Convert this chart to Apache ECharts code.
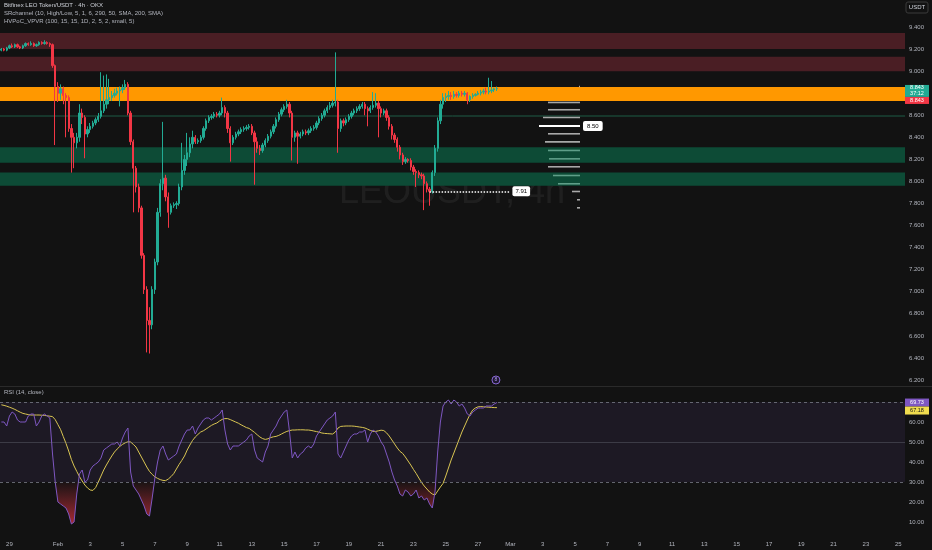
<!DOCTYPE html>
<html><head><meta charset="utf-8">
<script src="https://cdn.jsdelivr.net/npm/echarts@6/dist/echarts.min.js"></script>
<style>html,body{margin:0;padding:0;background:#121212;}#c{width:932px;height:550px;}</style>
</head><body><div id="c"></div>
<script>
// ---------- DATA ----------
// 4h candles [open, close, low, high], first candle Jan 28 12:00
const candles = [
[9.19,9.20,9.18,9.21],[9.20,9.19,9.18,9.21],[9.19,9.21,9.18,9.22],[9.21,9.23,9.20,9.24],[9.23,9.22,9.21,9.25],
[9.22,9.24,9.21,9.25],[9.24,9.22,9.21,9.25],[9.22,9.21,9.20,9.23],[9.21,9.23,9.20,9.24],[9.23,9.25,9.22,9.26],
[9.25,9.24,9.23,9.26],[9.24,9.25,9.23,9.27],[9.25,9.23,9.22,9.26],[9.23,9.24,9.22,9.25],[9.24,9.26,9.23,9.27],
[9.26,9.25,9.24,9.27],[9.25,9.26,9.24,9.28],[9.26,9.25,9.24,9.27],[9.25,9.24,9.22,9.26],[9.24,9.05,9.03,9.25],
[9.05,8.86,8.33,9.06],[8.86,8.80,8.72,8.90],[8.80,8.84,8.74,8.88],[8.84,8.78,8.70,8.86],[8.78,8.76,8.40,8.80],
[8.76,8.48,8.45,8.78],[8.48,8.40,8.08,8.52],[8.40,8.35,8.12,8.44],[8.35,8.40,8.30,8.44],[8.40,8.62,8.36,8.70],
[8.62,8.58,8.52,8.66],[8.58,8.43,8.21,8.60],[8.43,8.47,8.40,8.50],[8.47,8.50,8.44,8.53],[8.50,8.53,8.48,8.55],
[8.53,8.56,8.51,8.58],[8.56,8.59,8.54,8.62],[8.59,8.64,8.57,8.99],[8.64,8.70,8.62,8.96],[8.70,8.74,8.66,8.97],
[8.74,8.76,8.70,8.93],[8.76,8.78,8.73,8.82],[8.78,8.80,8.76,8.84],[8.80,8.82,8.78,8.85],[8.82,8.83,8.68,8.86],
[8.83,8.85,8.80,8.88],[8.85,8.88,8.83,8.92],[8.88,8.62,8.60,8.90],[8.62,8.36,8.33,8.64],[8.36,8.12,7.72,8.38],
[8.12,7.95,7.90,8.14],[7.95,7.76,7.72,7.98],[7.76,7.33,7.30,7.78],[7.33,7.02,6.98,7.35],[7.02,6.74,6.45,7.05],
[6.74,6.70,6.44,6.86],[6.70,7.02,6.66,7.05],[7.02,7.27,6.98,7.30],[7.27,7.72,7.24,7.76],[7.72,7.98,7.68,8.02],
[7.98,8.03,7.92,8.54],[8.03,7.86,7.82,8.06],[7.86,7.72,7.58,7.90],[7.72,7.78,7.70,7.80],[7.78,7.79,7.76,7.81],
[7.79,7.80,7.75,7.82],[7.80,7.95,7.78,7.98],[7.95,8.10,7.92,8.35],[8.10,8.20,8.06,8.24],[8.20,8.26,8.14,8.44],
[8.26,8.34,8.22,8.40],[8.34,8.40,8.30,8.46],[8.40,8.36,8.34,8.42],[8.36,8.37,8.34,8.39],[8.37,8.40,8.35,8.42],
[8.40,8.48,8.38,8.50],[8.48,8.55,8.46,8.57],[8.55,8.58,8.53,8.60],[8.58,8.59,8.56,8.61],[8.59,8.61,8.57,8.63],
[8.61,8.60,8.58,8.63],[8.60,8.62,8.58,8.64],[8.62,8.67,8.60,8.76],[8.67,8.62,8.58,8.69],[8.62,8.48,8.44,8.64],
[8.48,8.35,8.18,8.50],[8.35,8.40,8.33,8.42],[8.40,8.43,8.38,8.45],[8.43,8.45,8.41,8.47],[8.45,8.47,8.43,8.49],
[8.47,8.48,8.45,8.50],[8.48,8.49,8.46,8.51],[8.49,8.50,8.47,8.52],[8.50,8.44,8.42,8.52],[8.44,8.36,7.97,8.46],
[8.36,8.30,8.26,8.40],[8.30,8.28,8.24,8.33],[8.28,8.33,8.26,8.35],[8.33,8.37,8.31,8.39],[8.37,8.41,8.35,8.43],
[8.41,8.45,8.39,8.47],[8.45,8.50,8.43,8.52],[8.50,8.56,8.48,8.58],[8.56,8.61,8.54,8.63],[8.61,8.65,8.59,8.67],
[8.65,8.68,8.63,8.70],[8.68,8.70,8.66,8.74],[8.70,8.62,8.58,8.72],[8.62,8.40,8.19,8.64],[8.40,8.44,8.36,8.46],
[8.44,8.41,8.16,8.46],[8.41,8.43,8.39,8.45],[8.43,8.45,8.41,8.47],[8.45,8.44,8.42,8.47],[8.44,8.46,8.42,8.48],
[8.46,8.48,8.44,8.50],[8.48,8.49,8.46,8.51],[8.49,8.53,8.47,8.55],[8.53,8.57,8.51,8.59],[8.57,8.60,8.55,8.62],
[8.60,8.64,8.58,8.66],[8.64,8.67,8.62,8.69],[8.67,8.69,8.65,8.72],[8.69,8.71,8.67,8.74],[8.71,8.72,8.68,9.17],
[8.72,8.48,8.26,8.74],[8.48,8.55,8.45,8.57],[8.55,8.53,8.50,8.57],[8.53,8.56,8.51,8.58],[8.56,8.59,8.54,8.61],
[8.59,8.62,8.57,8.64],[8.62,8.64,8.60,8.66],[8.64,8.66,8.62,8.68],[8.66,8.68,8.64,8.70],[8.68,8.70,8.66,8.72],
[8.70,8.66,8.60,8.72],[8.66,8.64,8.50,8.68],[8.64,8.67,8.62,8.69],[8.67,8.69,8.65,8.81],[8.69,8.71,8.67,8.80],
[8.71,8.66,8.40,8.73],[8.66,8.62,8.58,8.68],[8.62,8.64,8.60,8.66],[8.64,8.58,8.55,8.66],[8.58,8.50,8.47,8.60],
[8.50,8.42,8.38,8.52],[8.42,8.38,8.35,8.44],[8.38,8.31,8.27,8.40],[8.31,8.24,8.20,8.33],[8.24,8.18,8.15,8.26],
[8.18,8.20,8.16,8.22],[8.20,8.19,8.17,8.21],[8.19,8.13,8.10,8.21],[8.13,8.09,8.06,8.15],[8.09,8.08,7.95,8.11],
[8.08,8.06,8.03,8.10],[8.06,8.05,8.02,8.08],[8.05,7.98,7.74,8.07],[7.98,7.93,7.90,8.00],[7.93,7.91,7.78,7.95],
[7.91,8.08,7.89,8.10],[8.08,8.30,8.05,8.33],[8.30,8.55,8.27,8.58],[8.55,8.70,8.52,8.74],[8.70,8.76,8.66,8.80],
[8.76,8.77,8.72,8.80],[8.77,8.78,8.74,8.82],[8.78,8.77,8.74,8.81],[8.77,8.79,8.75,8.82],[8.79,8.78,8.76,8.81],
[8.78,8.80,8.76,8.82],[8.80,8.79,8.77,8.82],[8.79,8.80,8.77,8.82],[8.80,8.74,8.70,8.81],[8.74,8.77,8.72,8.78],
[8.77,8.78,8.75,8.80],[8.78,8.79,8.77,8.80],[8.79,8.80,8.78,8.82],[8.80,8.81,8.78,8.83],[8.81,8.82,8.79,8.84],
[8.82,8.81,8.79,8.85],[8.81,8.82,8.79,8.94],[8.82,8.83,8.80,8.91],[8.83,8.84,8.81,8.85],[8.84,8.843,8.82,8.86]
];

// RSI(14) and its moving average, one value per candle
const rsiLine = [
60,60,58,63,65,64,61,60,60,60, 63,64,64,58,60,63,64,63,62,44,
30,20,19,18,17,14,9,10,24,34, 36,30,31,36,38,39,40,42,46,47,
48,49,49,50,48,52,55,57,35,28, 26,24,21,18,14,13,22,32,40,46,
48,44,41,42,43,44,48,51,54,56, 56,58,54,57,59,61,62,62,61,62,
63,64,66,56,49,46,48,48,48,49, 50,51,53,54,46,42,41,40,45,48,
54,56,58,61,63,65,66,55,42,45, 42,44,45,47,48,47,49,53,55,57,
59,61,62,63,65,44,42,45,48,51, 53,54,54,55,55,56,50,54,56,55,
53,50,48,44,40,35,31,28,24,23, 26,25,23,24,26,22,23,21,22,19,
17,25,45,60,68,70,71,69,71,70, 68,69,67,64,63,65,66,67,67,67,
68,68,68,69,69.73
];
const rsiMA = [
68.6,68.3,67.9,67.4,66.9,66.3,65.6,64.9,64.3,64.0, 63.7,63.5,63.5,63.5,63.5,63.4,63.3,63.1,62.9,62.7,
61.2,58.7,56.2,52.7,49.3,45.5,41.3,38.0,35.3,32.7, 30.5,28.5,27.0,26.0,25.8,27.2,30.0,33.0,36.0,38.5,
40.8,43.0,45.0,46.5,47.8,48.8,49.6,50.1,50.0,48.8, 47.5,45.0,42.5,40.0,37.5,35.3,33.8,32.6,31.8,31.2,
30.8,30.7,31.5,32.7,34.2,36.5,38.8,40.8,43.0,46.0, 48.5,50.8,52.5,53.8,55.0,55.6,56.5,57.4,58.3,59.0,
59.5,60.5,61.3,61.7,61.7,61.2,60.6,60.0,59.4,58.6, 57.9,57.2,56.8,55.8,54.8,53.6,52.5,51.7,51.3,51.6,
52.2,52.6,52.8,53.3,54.0,54.7,55.3,55.7,56.0,56.0, 56.1,56.1,56.1,56.0,56.0,55.8,55.5,55.2,54.9,54.5,
54.3,54.2,54.1,54.0,55.0,57.0,57.8,57.9,58.0,58.0, 58.0,57.9,57.7,57.5,57.3,57.0,56.4,55.8,55.3,55.3,
55.6,55.9,55.7,54.6,53.0,51.0,49.0,47.0,45.3,44.3, 42.5,40.5,38.5,36.3,34.3,32.0,29.8,28.0,26.5,25.0,
24.0,23.5,25.5,27.5,29.3,33.0,37.0,41.0,44.5,48.0, 51.5,55.0,58.0,61.0,63.8,66.0,67.0,67.6,67.7,67.6,
67.5,67.4,67.3,67.2,67.18
];

// support / resistance zones
const zoneLows  = [9.20, 9.00, 8.73, 8.590, 8.17, 7.96];
const zoneHighs = [9.345, 9.13, 8.856, 8.596, 8.31, 8.08];
const zoneKinds = ['red','red','orange','line','green','green'];

// volume profile rows
const profilePrices  = [8.859,8.714,8.648,8.578,8.503,8.430,8.357,8.279,8.203,8.131,8.052,7.977,7.907,7.832,7.759];
const profileVolumes = [1,32,32,37,41,32,35,32,31,32,27,22,8,3,3];
const pocPrice = 8.503;
const pocLabel = '8.50';
const pivotLow = 7.91;
const pivotStart = 159, pivotEnd = 189;

// time axis
const slotCount = 336;
const tickLabels = ['29','Feb','3','5','7','9','11','13','15','17','19','21','23','25','27','Mar','3','5','7','9','11','13','15','17','19','21','23','25'];
const tickDays   = [0,3,5,7,9,11,13,15,17,19,21,23,25,27,29,31,33,35,37,39,41,43,45,47,49,51,53,55];

const lastClose = 8.843, countdown = '37:12';
const lastRsi = 69.73, lastRsiMA = 67.18;

// ---------- BUILD ----------
const cats = [];
const t0 = Date.UTC(2025,0,28,12);
for (let i=0;i<slotCount;i++){ const d=new Date(t0+i*4*3600e3); cats.push(d.toISOString().slice(5,16)); }
const tickMap = new Map();
tickDays.forEach((d,k)=>tickMap.set(3+6*d, tickLabels[k]));

const osBase = rsiLine.map(v=>Math.min(v,30));
const osFill = osBase.map(v=>+(30-v).toFixed(2));

const zoneColors = {red:'#4a1e24', orange:'#ff9800', green:'#0d4b36', line:'#1e5d46'};
const greenZoneTest = p => zoneKinds.some((k,i)=>k==='green' && p>=zoneLows[i] && p<=zoneHighs[i]);

const FONT = 'Liberation Sans, Arial, sans-serif';
const chart = echarts.init(document.getElementById('c'), null, {renderer:'canvas', width:932, height:550});

const gTop = 4.94, gH = 397.12;
const option = {
  backgroundColor:'#121212',
  animation:false,
  textStyle:{fontFamily:FONT},
  grid:[
    {left:0, right:27, top:gTop, height:gH},
    {left:0, right:27, top:382, height:160},
    {left:530, right:352, top:gTop, height:gH}
  ],
  xAxis:[
    {type:'category', gridIndex:0, data:cats, boundaryGap:true, show:false},
    {type:'category', gridIndex:1, data:cats, boundaryGap:true,
      axisLine:{show:false}, axisTick:{show:false},
      axisLabel:{interval:(i)=>tickMap.has(i), formatter:(v,i)=>tickMap.get(i)||'', color:'#b2b5be', fontSize:6, margin:-1}},
    {type:'value', gridIndex:2, min:0, max:50, inverse:true, show:false}
  ],
  yAxis:[
    {type:'value', gridIndex:0, position:'right', min:6.0, max:9.6, interval:0.2,
      splitLine:{show:false}, axisLine:{show:false}, axisTick:{show:false},
      axisLabel:{color:'#b2b5be', fontSize:6, margin:4, formatter:v=>(v>6.1&&v<9.5)?v.toFixed(3):''}},
    {type:'value', gridIndex:1, position:'right', min:0, max:80, interval:10,
      splitLine:{show:false}, axisLine:{show:false}, axisTick:{show:false},
      axisLabel:{color:'#b2b5be', fontSize:6, margin:4, formatter:v=>(v>=10&&v<=60)?v.toFixed(2):''}},
    {type:'value', gridIndex:2, min:6.0, max:9.6, show:false}
  ],
  series:[
    {type:'custom', name:'zones', xAxisIndex:0, yAxisIndex:0, z:1, silent:true,
      data: zoneLows.map((lo,i)=>[0, lo, zoneHighs[i]]),
      encode:{x:0, y:[1,2]},
      renderItem:(params, api)=>{
        const cs = params.coordSys;
        const k = zoneKinds[params.dataIndex];
        const yTop = api.coord([0, api.value(2)])[1];
        const yBot = api.coord([0, api.value(1)])[1];
        if (k==='line') return {type:'line', shape:{x1:cs.x, y1:(yTop+yBot)/2, x2:cs.x+cs.width, y2:(yTop+yBot)/2}, style:{stroke:zoneColors[k], lineWidth:1}};
        return {type:'rect', shape:{x:cs.x, y:yTop, width:cs.width, height:yBot-yTop}, style:{fill:zoneColors[k]}};
      }
    },
    {type:'candlestick', name:'LEOUSDT', xAxisIndex:0, yAxisIndex:0, z:3, data:candles, barWidth:1.8,
      itemStyle:{color:'#22ab94', color0:'#f23645', borderColor:'#22ab94', borderColor0:'#f23645', borderWidth:1},
      markLine:{silent:true, symbol:['none','none'],
        lineStyle:{color:'#ffffff', type:'dotted', width:1.5},
        label:{show:true, position:'end', distance:2, formatter:pivotLow.toFixed(2), color:'#000', backgroundColor:'#ffffff', padding:[2,3], borderRadius:2, fontSize:6},
        data:[[{coord:[pivotStart, pivotLow]},{coord:[pivotEnd, pivotLow]}]]}
    },
    {type:'custom', name:'profile', xAxisIndex:2, yAxisIndex:2, z:3, silent:true,
      data: profilePrices.map((p,i)=>[profileVolumes[i], p]),
      encode:{x:0, y:1},
      renderItem:(params, api)=>{
        const vol = api.value(0), price = api.value(1);
        const pR = api.coord([0, price]), pL = api.coord([vol, price]);
        const poc = Math.abs(price-pocPrice)<1e-6;
        const col = poc ? '#ffffff' : (greenZoneTest(price) ? '#5f9e88' : '#a8a8a8');
        const ch = [{type:'rect', shape:{x:pL[0], y:pR[1]-1, width:pR[0]-pL[0], height:poc?2:1.6}, style:{fill:col}}];
        if (poc) ch.push({type:'text', x:pR[0]+3, y:pR[1], style:{text:pocLabel, fill:'#000', backgroundColor:'#ffffff', padding:[2,4], borderRadius:2, fontSize:6, fontFamily:FONT, verticalAlign:'middle'}});
        return {type:'group', children:ch};
      }
    },
    {type:'line', name:'osBase', xAxisIndex:1, yAxisIndex:1, data:osBase, stack:'os', symbol:'none', silent:true, z:1,
      lineStyle:{opacity:0}},
    {type:'line', name:'osFill', xAxisIndex:1, yAxisIndex:1, data:osFill, stack:'os', symbol:'none', silent:true, z:1,
      lineStyle:{opacity:0},
      areaStyle:{color:new echarts.graphic.LinearGradient(0,0,0,1,[{offset:0,color:'rgba(242,54,69,0.05)'},{offset:1,color:'rgba(242,54,69,0.95)'}])}},
    {type:'line', name:'RSI-based MA', xAxisIndex:1, yAxisIndex:1, data:rsiMA, symbol:'none', z:3,
      lineStyle:{color:'#d9c552', width:1}},
    {type:'line', name:'RSI', xAxisIndex:1, yAxisIndex:1, data:rsiLine, symbol:'none', z:4,
      lineStyle:{color:'#7e57c2', width:1},
      markArea:{silent:true, itemStyle:{color:'rgba(126,87,194,0.1)'}, data:[[{yAxis:30},{yAxis:70}]]},
      markLine:{silent:true, symbol:['none','none'], label:{show:false},
        data:[
          {yAxis:70, lineStyle:{color:'#787b86', type:[3,3], width:1, opacity:0.8}},
          {yAxis:50, lineStyle:{color:'#787b86', type:'solid', width:1, opacity:0.35}},
          {yAxis:30, lineStyle:{color:'#787b86', type:[3,3], width:1, opacity:0.8}}
        ]}
    }
  ]
};
chart.setOption(option);

// ---------- overlays positioned through the axes ----------
const yP = chart.convertToPixel({yAxisIndex:0}, lastClose);
const yR = chart.convertToPixel({yAxisIndex:1}, lastRsi);
const xLast = chart.convertToPixel({xAxisIndex:0}, candles.length-1);
const txt = (x,y,t,fill,size,extra)=>Object.assign({type:'text', x, y, silent:true, style:Object.assign({text:t, fill, fontSize:size, fontFamily:FONT, verticalAlign:'middle'}, extra||{})}, {z:100});

chart.setOption({graphic:[
  {type:'text', x:452, y:193, z:0, silent:true, style:{text:'LEOUSDT, 4h', fill:'rgba(255,255,255,0.06)', fontSize:36, fontFamily:FONT, align:'center', verticalAlign:'middle'}},
  txt(4,5,'Bitfinex LEO Token/USDT · 4h · OKX','#d1d4dc',6),
  txt(4,13,'SRchannel (10, High/Low, 5, 1, 6, 290, 50, SMA, 200, SMA)','#b2b5be',6),
  txt(4,21,'HVPoC_VPVR (100, 15, 15, 1D, 2, 5, 2, small, 5)','#b2b5be',6),
  txt(4,392,'RSI (14, close)','#b2b5be',6),
  {type:'line', z:50, silent:true, shape:{x1:0,y1:386.5,x2:932,y2:386.5}, style:{stroke:'#2a2a2a', lineWidth:1}},
  {type:'rect', z:100, silent:true, shape:{x:906,y:2,width:22,height:11,r:2}, style:{fill:'#121212', stroke:'#3a3a3a', lineWidth:1}},
  txt(917,7.5,'USDT','#d1d4dc',6,{align:'center'}),
  {type:'rect', z:100, silent:true, shape:{x:905,y:yP-3.5,width:24,height:12}, style:{fill:'#22ab94'}},
  txt(917,yP-0.5,lastClose.toFixed(3),'#ffffff',5.5,{align:'center'}),
  txt(917,yP+5,countdown,'#ffffff',5.5,{align:'center'}),
  {type:'rect', z:100, silent:true, shape:{x:905,y:yP+8.5,width:24,height:7}, style:{fill:'#f23645'}},
  txt(917,yP+12,lastClose.toFixed(3),'#ffffff',5.5,{align:'center'}),
  {type:'rect', z:100, silent:true, shape:{x:905,y:yR-4,width:24,height:8}, style:{fill:'#7e57c2'}},
  txt(917,yR,lastRsi.toFixed(2),'#ffffff',5.5,{align:'center'}),
  {type:'rect', z:100, silent:true, shape:{x:905,y:yR+4,width:24,height:8}, style:{fill:'#f0dc4e'}},
  txt(917,yR+8,lastRsiMA.toFixed(2),'#131313',5.5,{align:'center'}),
  {type:'circle', z:100, silent:true, shape:{cx:xLast-1, cy:380, r:4}, style:{fill:'#1e1830', stroke:'#8a68d6', lineWidth:1}},
  txt(xLast-1,380,'8','#b59cf0',5,{align:'center'})
]});
</script></body></html>
